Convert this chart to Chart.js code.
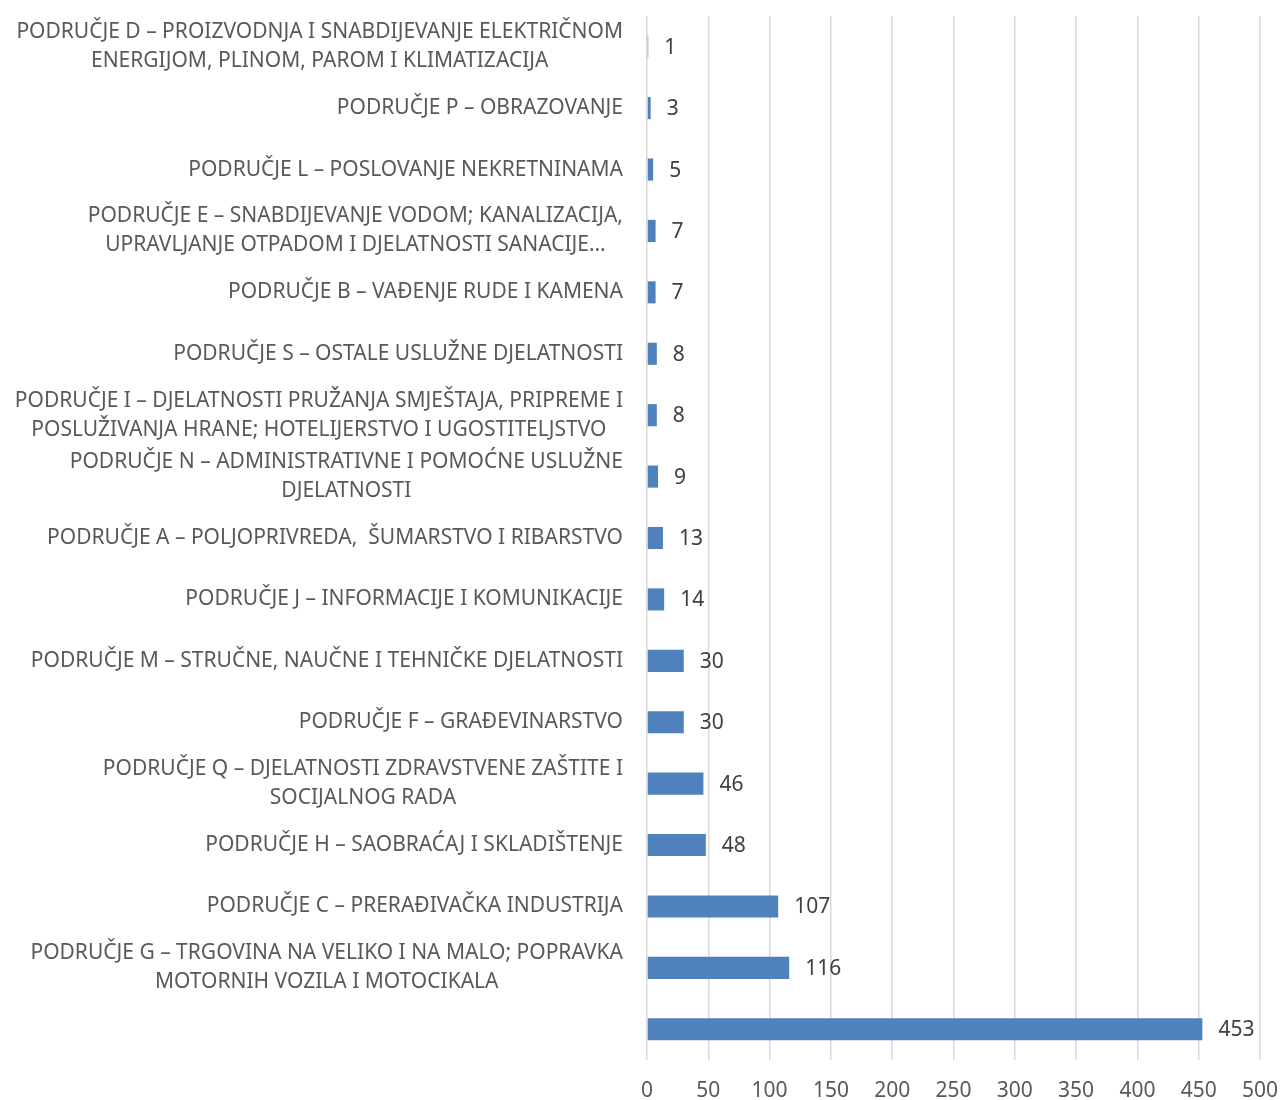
<!DOCTYPE html>
<html>
<head>
<meta charset="utf-8">
<script src="https://cdn.jsdelivr.net/npm/chart.js@4"></script>
<style>
  html, body { margin: 0; padding: 0; background: #fff; }
  #wrap { width: 1280px; height: 1100px; }
</style>
</head>
<body>
<div id="wrap"><canvas id="areaChart"></canvas></div>
<script>
// Categories (top to bottom), multi-line labels as arrays
const categories = [
  ['PODRUČJE D – PROIZVODNJA I SNABDIJEVANJE ELEKTRIČNOM', 'ENERGIJOM, PLINOM, PAROM I KLIMATIZACIJA'],
  ['PODRUČJE P – OBRAZOVANJE'],
  ['PODRUČJE L – POSLOVANJE NEKRETNINAMA'],
  ['PODRUČJE E – SNABDIJEVANJE VODOM; KANALIZACIJA,', 'UPRAVLJANJE OTPADOM I DJELATNOSTI SANACIJE…'],
  ['PODRUČJE B – VAĐENJE RUDE I KAMENA'],
  ['PODRUČJE S – OSTALE USLUŽNE DJELATNOSTI'],
  ['PODRUČJE I – DJELATNOSTI PRUŽANJA SMJEŠTAJA, PRIPREME I', 'POSLUŽIVANJA HRANE; HOTELIJERSTVO I UGOSTITELJSTVO'],
  ['PODRUČJE N – ADMINISTRATIVNE I POMOĆNE USLUŽNE', 'DJELATNOSTI'],
  ['PODRUČJE A – POLJOPRIVREDA,  ŠUMARSTVO I RIBARSTVO'],
  ['PODRUČJE J – INFORMACIJE I KOMUNIKACIJE'],
  ['PODRUČJE M – STRUČNE, NAUČNE I TEHNIČKE DJELATNOSTI'],
  ['PODRUČJE F – GRAĐEVINARSTVO'],
  ['PODRUČJE Q – DJELATNOSTI ZDRAVSTVENE ZAŠTITE I', 'SOCIJALNOG RADA'],
  ['PODRUČJE H – SAOBRAĆAJ I SKLADIŠTENJE'],
  ['PODRUČJE C – PRERAĐIVAČKA INDUSTRIJA'],
  ['PODRUČJE G – TRGOVINA NA VELIKO I NA MALO; POPRAVKA', 'MOTORNIH VOZILA I MOTOCIKALA'],
  ['']
];
const values = [1, 3, 5, 7, 7, 8, 8, 9, 13, 14, 30, 30, 46, 48, 107, 116, 453];
const xTicks = [0, 50, 100, 150, 200, 250, 300, 350, 400, 450, 500];

const FONT = '"Noto Sans", sans-serif';

// draws the category labels: block right-aligned, lines centred inside block
const categoryLabels = {
  id: 'categoryLabels',
  afterDraw(chart) {
    const c = chart.ctx;
    const y = chart.scales.y;
    const right = chart.chartArea.left - 24;
    c.save();
    c.font = '21px ' + FONT;
    c.fillStyle = '#595959';
    c.textAlign = 'center';
    c.textBaseline = 'middle';
    categories.forEach((lines, i) => {
      const cy = y.getPixelForValue(i);
      const maxW = Math.max(...lines.map(l => c.measureText(l).width));
      const cx = right - maxW / 2;
      const lh = 29;
      const y0 = cy - (lines.length - 1) * lh / 2;
      lines.forEach((l, k) => c.fillText(l, cx, y0 + k * lh));
    });
    c.restore();
  }
};

// value labels to the right of each bar
const valueLabels = {
  id: 'valueLabels',
  afterDatasetsDraw(chart) {
    const c = chart.ctx;
    const meta = chart.getDatasetMeta(0);
    c.save();
    c.font = '21px ' + FONT;
    c.fillStyle = '#404040';
    c.textAlign = 'left';
    c.textBaseline = 'middle';
    meta.data.forEach((bar, i) => {
      c.fillText(String(values[i]), bar.x + 16, bar.y + 1);
    });
    c.restore();
  }
};

const ctx = document.getElementById('areaChart').getContext('2d');
new Chart(ctx, {
  type: 'bar',
  data: {
    labels: categories,
    datasets: [{
      data: values,
      backgroundColor: '#4f81bd',
      borderWidth: 0,
      categoryPercentage: 1,
      barPercentage: 0.36
    }]
  },
  options: {
    indexAxis: 'y',
    responsive: true,
    maintainAspectRatio: false,
    animation: false,
    layout: { padding: { top: 16, right: 20, bottom: 0, left: 0 } },
    scales: {
      x: {
        min: 0,
        max: 500,
        afterBuildTicks: (s) => { s.ticks = xTicks.map(v => ({ value: v })); },
        grid: { color: '#d9d9d9', lineWidth: 1.5, drawTicks: false },
        border: { display: false },
        ticks: {
          padding: 18,
          color: '#595959',
          font: { family: FONT, size: 21 }
        },
        afterFit: (s) => { s.height = 40; s.paddingRight = 0; s.paddingLeft = 0; }
      },
      y: {
        grid: { display: false },
        border: { display: false },
        ticks: { display: false },
        afterFit: (s) => { s.width = 647; }
      }
    },
    plugins: {
      legend: { display: false },
      tooltip: { enabled: false }
    }
  },
  plugins: [categoryLabels, valueLabels]
});
</script>
</body>
</html>
